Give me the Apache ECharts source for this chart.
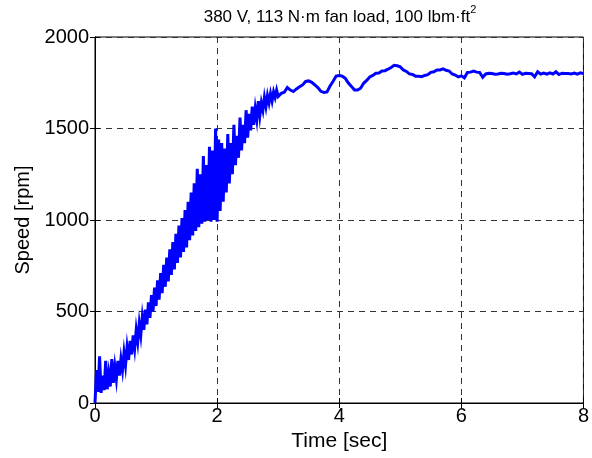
<!DOCTYPE html>
<html>
<head>
<meta charset="utf-8">
<script src="https://cdn.jsdelivr.net/npm/echarts@6/dist/echarts.min.js"></script>
<style>
html,body{margin:0;padding:0;background:#fff;}
#chart{width:592px;height:458px;}
</style>
</head>
<body>
<div id="chart"></div>
<script>
// Dense start-up segment (0 - 2.975 s)
var timeDense = [
0,0.025,0.05,0.075,0.1,0.125,0.15,0.175,0.2,0.225,0.25,0.275,0.3,0.325,0.35,0.375,0.4,0.425,0.45,0.475,
0.5,0.525,0.55,0.575,0.6,0.625,0.65,0.675,0.7,0.725,0.75,0.775,0.8,0.825,0.85,0.875,0.9,0.925,0.95,0.975,
1,1.025,1.05,1.075,1.1,1.125,1.15,1.175,1.2,1.225,1.25,1.275,1.3,1.325,1.35,1.375,1.4,1.425,1.45,1.475,
1.5,1.525,1.55,1.575,1.6,1.625,1.65,1.675,1.7,1.725,1.75,1.775,1.8,1.825,1.85,1.875,1.9,1.925,1.95,1.975,
2,2.025,2.05,2.075,2.1,2.125,2.15,2.175,2.2,2.225,2.25,2.275,2.3,2.325,2.35,2.375,2.4,2.425,2.45,2.475,
2.5,2.525,2.55,2.575,2.6,2.625,2.65,2.675,2.7,2.725,2.75,2.775,2.8,2.825,2.85,2.875,2.9,2.925,2.95,2.975
];
var speedDense = [
0,180,60,255,55,150,70,230,75,160,90,240,110,200,130,230,150,240,180,275,
205,305,235,340,265,370,300,400,335,435,370,470,400,510,430,550,465,590,500,630,
530,670,565,710,600,755,635,795,665,840,700,880,730,925,765,970,795,1010,825,1055,
850,1100,890,1150,915,1200,940,1280,960,1250,980,1350,990,1300,1000,1400,990,1380,1000,1500,
990,1440,1050,1420,1100,1390,1150,1470,1200,1420,1250,1520,1300,1460,1340,1560,1380,1520,1420,1600,
1450,1580,1490,1620,1520,1610,1550,1650,1570,1640,1600,1670,1620,1680,1640,1690,1650,1700,1670,1710
];
// Settling segment (3 - 8 s)
var timeSettle = [
3,3.05,3.1,3.15,3.2,3.25,3.3,3.35,3.4,3.45,3.5,3.55,3.6,3.65,3.7,3.75,3.8,3.85,3.9,3.95,
4,4.05,4.1,4.15,4.2,4.25,4.3,4.35,4.4,4.45,4.5,4.55,4.6,4.65,4.7,4.75,4.8,4.85,4.9,4.95,
5,5.05,5.1,5.15,5.2,5.25,5.3,5.35,5.4,5.45,5.5,5.55,5.6,5.65,5.7,5.75,5.8,5.85,5.9,5.95,
6,6.05,6.1,6.15,6.2,6.25,6.3,6.35,6.4,6.45,6.5,6.55,6.6,6.65,6.7,6.75,6.8,6.85,6.9,6.95,
7,7.05,7.1,7.15,7.2,7.25,7.3,7.35,7.4,7.45,7.5,7.55,7.6,7.65,7.7,7.75,7.8,7.85,7.9,7.95,8
];
var speedSettle = [
1675,1692,1698,1724,1710,1702,1716,1728,1738,1757,1760,1752,1738,1724,1703,1697,1700,1732,1758,1787,
1790,1786,1774,1748,1730,1710,1710,1720,1747,1763,1782,1790,1802,1803,1814,1816,1824,1833,1845,1843,
1837,1820,1812,1798,1795,1786,1785,1783,1790,1794,1807,1810,1820,1820,1826,1818,1814,1798,1792,1782,
1788,1777,1806,1808,1814,1808,1806,1780,1798,1802,1800,1796,1798,1802,1801,1797,1799,1803,1798,1808,
1796,1802,1801,1799,1782,1810,1797,1803,1797,1804,1798,1810,1795,1802,1801,1800,1798,1803,1797,1804,1800
];
var xTicks = [0, 2, 4, 6, 8];
var yTicks = [0, 500, 1000, 1500, 2000];
var titleText = '380 V, 113 N\u00b7m fan load, 100 lbm\u00b7ft';
var titleSup = '2';
var xName = 'Time [sec]';
var yName = 'Speed [rpm]';

var pts = [];
for (var i = 0; i < timeDense.length; i++) pts.push([timeDense[i], speedDense[i]]);
for (var j = 0; j < timeSettle.length; j++) pts.push([timeSettle[j], speedSettle[j]]);

var chart = echarts.init(document.getElementById('chart'), null, {renderer: 'canvas'});
var font = 'Liberation Sans, Arial, Helvetica, sans-serif';
var splitStyle = {show: true, lineStyle: {color: '#333', type: [6, 5], width: 1}};
chart.setOption({
  animation: false,
  backgroundColor: '#fff',
  textStyle: {fontFamily: font},
  grid: {left: 95, right: 6, top: 37, bottom: 55, show: true, borderColor: '#000', borderWidth: 1},
  graphic: [{
    type: 'text', x: 0, y: 0,
    style: {
      x: 340, y: 3,
      align: 'center', textAlign: 'center',
      verticalAlign: 'top', textVerticalAlign: 'top',
      text: '{a|' + titleText + '}{s|' + titleSup + '}',
      rich: {
        a: {fontSize: 17, fontFamily: font, fill: '#000', color: '#000', padding: [6, 0, 0, 0]},
        s: {fontSize: 11, fontFamily: font, fill: '#000', color: '#000', padding: [0, 0, 10, 0]}
      }
    }
  }],
  xAxis: [{
    type: 'value', min: xTicks[0], max: xTicks[xTicks.length - 1], interval: 2,
    name: xName, nameLocation: 'middle', nameGap: 25,
    nameTextStyle: {fontSize: 21, color: '#000', fontFamily: font},
    axisLine: {show: true, onZero: false, lineStyle: {color: '#000', width: 1}},
    axisTick: {show: true, inside: true, length: 5, lineStyle: {color: '#000'}},
    axisLabel: {fontSize: 20, color: '#000', margin: 3, fontFamily: font, formatter: function (v) { return String(v); }},
    splitLine: splitStyle
  }, {
    type: 'value', position: 'top', min: xTicks[0], max: xTicks[xTicks.length - 1], interval: 2,
    axisLine: {show: true, lineStyle: {color: '#000'}},
    axisTick: {show: true, inside: true, length: 5, lineStyle: {color: '#000'}},
    axisLabel: {show: false}, splitLine: {show: false}
  }],
  yAxis: [{
    type: 'value', min: yTicks[0], max: yTicks[yTicks.length - 1], interval: 500,
    name: yName, nameLocation: 'middle', nameGap: 55, nameRotate: 90,
    nameTextStyle: {fontSize: 20, color: '#000', fontFamily: font},
    axisLine: {show: true, onZero: false, lineStyle: {color: '#000', width: 1}},
    axisTick: {show: true, inside: true, length: 5, lineStyle: {color: '#000'}},
    axisLabel: {fontSize: 20, color: '#000', margin: 6, fontFamily: font, formatter: function (v) { return String(v); }},
    splitLine: splitStyle
  }, {
    type: 'value', position: 'right', min: yTicks[0], max: yTicks[yTicks.length - 1], interval: 500,
    axisLine: {show: true, lineStyle: {color: '#000'}},
    axisTick: {show: true, inside: true, length: 5, lineStyle: {color: '#000'}},
    axisLabel: {show: false}, splitLine: {show: false}
  }],
  series: [{
    type: 'line', data: pts, showSymbol: false, symbol: 'none',
    xAxisIndex: 0, yAxisIndex: 0,
    lineStyle: {color: '#0000ff', width: 3, join: 'miter'}, itemStyle: {color: '#0000ff'},
    clip: true
  }]
});
</script>
</body>
</html>
